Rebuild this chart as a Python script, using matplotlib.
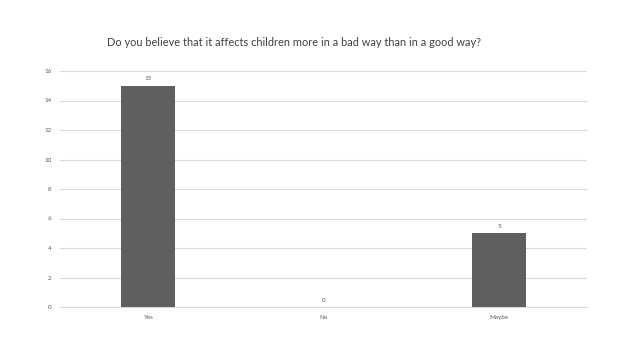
import matplotlib
matplotlib.use("Agg")
import matplotlib.pyplot as plt

categories = ["Yes", "No", "Maybe"]
values = [15, 0, 5]
yticks = [0, 2, 4, 6, 8, 10, 12, 14, 16]
title = "Do you believe that it affects children more in a bad way than in a good way?"

plt.rcParams['font.family'] = ['Lato', 'DejaVu Sans']

fig = plt.figure(figsize=(6.38, 3.59), dpi=100)
ax = fig.add_axes([60/638, 1-307/359, (587-60)/638, (307-71)/359])

x = list(range(len(categories)))
bars = ax.bar(x, values, width=0.31, color="#5f5f5f", zorder=3)
for xi, v in zip(x, values):
    ax.text(xi, v + 0.3, str(v), ha="center", va="bottom", fontsize=4.5, color="#595959")

ax.set_xlim(-0.5, len(categories) - 0.5)
ax.set_ylim(0, 16)
ax.set_yticks(yticks)
ax.set_yticklabels([str(t) for t in yticks], fontsize=4.5, color="#595959")
ax.set_xticks(x)
ax.set_xticklabels(categories, fontsize=4.5, color="#595959")
ax.tick_params(axis="both", length=0, pad=6)
ax.yaxis.grid(True, color="#d9d9d9", linewidth=0.8, zorder=0)
for s in ["top", "right", "left"]:
    ax.spines[s].set_visible(False)
ax.spines["bottom"].set_color("#d9d9d9")
ax.spines["bottom"].set_linewidth(0.8)

fig.text(294/638, 1-43/359, title, ha="center", va="center", fontsize=7.9, color="#404040")

fig.savefig("out.png", dpi=100)
